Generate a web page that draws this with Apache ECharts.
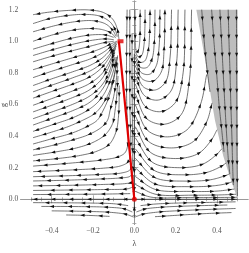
<!DOCTYPE html>
<html><head><meta charset="utf-8">
<script src="https://cdn.jsdelivr.net/npm/echarts@6/dist/echarts.min.js"></script>
<style>html,body{margin:0;padding:0;background:#fff}#c{width:249px;height:253px}</style>
</head><body><div id="c"></div>
<script>
// ---- tick values ----
const xMajorTicks = [-0.4, -0.2, 0, 0.2, 0.4];
const xMinorTicks = [-0.5,-0.45,-0.4,-0.35,-0.3,-0.25,-0.2,-0.15,-0.1,-0.05,0,0.05,0.1,0.15,0.2,0.25,0.3,0.35,0.4,0.45,0.5];
const yMajorTicks = [0, 0.2, 0.4, 0.6, 0.8, 1.0, 1.2];
const yMinorTicks = [-0.15,-0.1,-0.05,0,0.05,0.1,0.15,0.2,0.25,0.3,0.35,0.4,0.45,0.5,0.55,0.6,0.65,0.7,0.75,0.8,0.85,0.9,0.95,1.0,1.05,1.1,1.15,1.2,1.25];

// ---- streamlines, each ordered along the flow: [lambda, g] ----
const leftLines = [
 [[-0.074,1.01],[-0.083,1.08],[-0.105,1.14],[-0.15,1.182],[-0.22,1.198],[-0.32,1.195],[-0.42,1.183],[-0.49,1.168]],
 [[-0.082,1.03],[-0.095,1.08],[-0.12,1.125],[-0.17,1.16],[-0.25,1.17],[-0.35,1.158],[-0.42,1.14],[-0.49,1.112]],
 [[-0.088,1.03],[-0.105,1.07],[-0.14,1.11],[-0.2,1.13],[-0.28,1.125],[-0.38,1.1],[-0.49,1.06]],
 [[-0.09,1.02],[-0.11,1.05],[-0.16,1.075],[-0.23,1.08],[-0.32,1.065],[-0.41,1.035],[-0.49,1.0]],
 [[-0.1,1.025],[-0.14,1.04],[-0.21,1.04],[-0.3,1.02],[-0.4,0.985],[-0.49,0.95]],
 [[-0.1,1.01],[-0.14,1.015],[-0.21,1.005],[-0.3,0.98],[-0.4,0.945],[-0.49,0.91]],
 [[-0.1,1.0],[-0.15,0.99],[-0.21,0.97],[-0.3,0.94],[-0.4,0.905],[-0.49,0.87]],
 [[-0.085,1.0],[-0.11,0.985],[-0.15,0.96],[-0.21,0.93],[-0.3,0.895],[-0.4,0.856],[-0.49,0.82]],
 [[-0.086,0.995],[-0.11,0.97],[-0.15,0.93],[-0.21,0.89],[-0.3,0.852],[-0.4,0.81],[-0.49,0.77]],
 [[-0.087,0.99],[-0.11,0.955],[-0.15,0.9],[-0.21,0.85],[-0.3,0.806],[-0.4,0.762],[-0.49,0.72]],
 [[-0.088,0.98],[-0.11,0.935],[-0.15,0.87],[-0.21,0.815],[-0.3,0.768],[-0.4,0.722],[-0.49,0.68]],
 [[-0.085,0.985],[-0.095,0.96],[-0.12,0.9],[-0.16,0.83],[-0.22,0.772],[-0.3,0.728],[-0.4,0.682],[-0.49,0.64]],
 [[-0.088,0.97],[-0.1,0.93],[-0.125,0.86],[-0.16,0.79],[-0.22,0.73],[-0.3,0.685],[-0.4,0.637],[-0.49,0.595]],
 [[-0.092,0.955],[-0.105,0.9],[-0.13,0.82],[-0.165,0.75],[-0.22,0.69],[-0.3,0.643],[-0.4,0.595],[-0.49,0.553]],
 [[-0.095,0.93],[-0.108,0.86],[-0.13,0.78],[-0.165,0.71],[-0.22,0.65],[-0.3,0.6],[-0.4,0.552],[-0.49,0.51]],
 [[-0.094,0.9],[-0.11,0.82],[-0.135,0.74],[-0.17,0.67],[-0.22,0.61],[-0.3,0.56],[-0.4,0.512],[-0.49,0.47]],
 [[-0.088,0.9],[-0.1,0.82],[-0.12,0.74],[-0.145,0.67],[-0.18,0.61],[-0.23,0.56],[-0.3,0.515],[-0.4,0.47],[-0.49,0.43]],
 [[-0.083,0.9],[-0.095,0.8],[-0.115,0.7],[-0.14,0.63],[-0.174,0.565],[-0.2,0.535],[-0.25,0.5],[-0.32,0.46],[-0.4,0.425],[-0.49,0.39]],
 [[-0.081,0.91],[-0.09,0.83],[-0.105,0.73],[-0.125,0.64],[-0.15,0.565],[-0.18,0.5],[-0.23,0.46],[-0.3,0.42],[-0.4,0.383],[-0.49,0.35]],
 [[-0.08,0.86],[-0.088,0.75],[-0.1,0.65],[-0.117,0.565],[-0.13,0.5],[-0.16,0.455],[-0.22,0.41],[-0.3,0.375],[-0.4,0.34],[-0.49,0.313]],
 [[-0.079,0.78],[-0.085,0.66],[-0.093,0.565],[-0.105,0.48],[-0.14,0.41],[-0.2,0.36],[-0.28,0.325],[-0.38,0.3],[-0.49,0.278]],
 [[-0.073,0.72],[-0.074,0.6],[-0.077,0.52],[-0.088,0.43],[-0.12,0.35],[-0.18,0.305],[-0.26,0.278],[-0.37,0.258],[-0.49,0.243]],
 [[-0.035,1.2],[-0.037,1.0],[-0.038,0.75],[-0.036,0.565],[-0.03,0.42],[-0.031,0.35],[-0.045,0.295],[-0.08,0.268],[-0.15,0.25],[-0.3,0.23],[-0.49,0.21]],
 [[-0.022,1.2],[-0.022,0.9],[-0.021,0.565],[-0.017,0.36],[-0.019,0.28],[-0.032,0.235],[-0.07,0.21],[-0.15,0.197],[-0.3,0.186],[-0.49,0.175]],
 [[-0.011,1.05],[-0.011,0.8],[-0.01,0.565],[-0.008,0.3],[-0.011,0.22],[-0.022,0.185],[-0.06,0.167],[-0.15,0.158],[-0.3,0.15],[-0.49,0.143]],
 [[-0.005,0.25],[-0.008,0.17],[-0.022,0.145],[-0.07,0.135],[-0.2,0.127],[-0.35,0.12],[-0.49,0.116]],
 [[-0.004,0.15],[-0.01,0.11],[-0.04,0.1],[-0.15,0.094],[-0.3,0.089],[-0.49,0.085]],
 [[-0.006,0.08],[-0.03,0.067],[-0.15,0.062],[-0.3,0.059],[-0.49,0.056]],
 [[-0.02,0.036],[-0.15,0.033],[-0.49,0.03]]
];
const rightLines = [
 [[0.003,1.2],[0.004,1.05],[0.006,0.96],[0.012,0.93],[0.02,0.945],[0.026,1.0],[0.028,1.1],[0.028,1.2]],
 [[0.004,0.935],[0.02,0.9],[0.037,0.915],[0.047,0.98],[0.051,1.08],[0.052,1.2]],
 [[0.004,0.915],[0.025,0.868],[0.05,0.875],[0.067,0.94],[0.074,1.05],[0.076,1.2]],
 [[0.004,0.895],[0.03,0.835],[0.062,0.835],[0.086,0.89],[0.097,1.0],[0.1,1.2]],
 [[0.004,0.87],[0.035,0.8],[0.075,0.792],[0.106,0.845],[0.12,0.97],[0.124,1.2]],
 [[0.004,0.845],[0.04,0.76],[0.09,0.748],[0.13,0.805],[0.144,0.95],[0.148,1.2]],
 [[0.004,0.815],[0.045,0.71],[0.102,0.692],[0.152,0.745],[0.173,0.9],[0.18,1.2]],
 [[0.004,0.78],[0.05,0.655],[0.116,0.628],[0.177,0.685],[0.204,0.86],[0.212,1.2]],
 [[0.004,0.73],[0.055,0.585],[0.13,0.555],[0.2,0.615],[0.236,0.8],[0.245,1.2]],
 [[0.004,0.67],[0.06,0.51],[0.145,0.475],[0.226,0.535],[0.266,0.75],[0.277,1.2]],
 [[0.004,0.6],[0.065,0.435],[0.16,0.395],[0.255,0.44],[0.32,0.6],[0.35,0.79]],
 [[0.004,0.53],[0.07,0.365],[0.18,0.325],[0.285,0.365],[0.35,0.49],[0.376,0.61]],
 [[0.004,0.46],[0.08,0.295],[0.2,0.258],[0.31,0.29],[0.375,0.38],[0.4,0.44]],
 [[0.004,0.39],[0.09,0.232],[0.22,0.2],[0.33,0.222],[0.395,0.28],[0.424,0.32]],
 [[0.004,0.32],[0.1,0.18],[0.24,0.155],[0.35,0.17],[0.415,0.205],[0.445,0.23]],
 [[0.004,0.26],[0.1,0.137],[0.25,0.115],[0.37,0.124],[0.43,0.145],[0.46,0.16]],
 [[0.004,0.2],[0.1,0.097],[0.26,0.08],[0.38,0.085],[0.44,0.097],[0.472,0.11]],
 [[0.004,0.145],[0.1,0.063],[0.27,0.05],[0.4,0.052],[0.484,0.065]],
 [[0.004,0.095],[0.1,0.033],[0.28,0.026],[0.42,0.028],[0.492,0.032]],
 [[0.005,0.05],[0.08,0.014],[0.25,0.011],[0.45,0.012],[0.497,0.013]]
];
const shadedLines = [
 [[0.326,1.2],[0.338,1.0],[0.352,0.82],[0.366,0.68]],
 [[0.374,1.2],[0.385,1.0],[0.398,0.8],[0.41,0.6],[0.422,0.45],[0.434,0.3]],
 [[0.414,1.2],[0.422,1.0],[0.43,0.8],[0.438,0.6],[0.447,0.4],[0.455,0.25],[0.462,0.16]],
 [[0.454,1.2],[0.458,1.0],[0.463,0.8],[0.467,0.6],[0.472,0.4],[0.476,0.2],[0.479,0.09]],
 [[0.494,1.2],[0.495,0.9],[0.496,0.6],[0.497,0.3],[0.499,0.02]]
];
const lowerLines = [
 [[-0.03,-0.04],[-0.1,-0.028],[-0.2,-0.024],[-0.35,-0.022],[-0.49,-0.021]],
 [[-0.01,-0.08],[-0.05,-0.06],[-0.13,-0.05],[-0.27,-0.046],[-0.45,-0.045]],
 [[-0.004,-0.112],[-0.04,-0.095],[-0.12,-0.082],[-0.25,-0.076],[-0.4,-0.073]],
 [[-0.12,-0.108],[-0.22,-0.102],[-0.33,-0.099]],
 [[0.03,-0.04],[0.1,-0.03],[0.2,-0.024],[0.35,-0.02],[0.49,-0.016]],
 [[0.01,-0.08],[0.05,-0.062],[0.13,-0.05],[0.27,-0.042],[0.45,-0.036]],
 [[0.004,-0.112],[0.04,-0.095],[0.12,-0.08],[0.25,-0.07],[0.4,-0.062],[0.49,-0.058]],
 [[0.1,-0.11],[0.22,-0.1],[0.35,-0.09],[0.47,-0.084]]
];
const axisLines = [
 [[0,0.92],[0,0.003]],
 [[0,-0.115],[0,-0.005]],
 [[0,0],[-0.5,0]],
 [[0,0],[0.5,0]]
];
// shaded (excluded) region outline
const shadedLam = [0.30, 0.50, 0.50, 0.46, 0.43, 0.39, 0.372, 0.34];
const shadedG   = [1.20, 1.20, 0.00, 0.15, 0.275, 0.50, 0.64, 0.90];
// red path
const redLam = [-0.075, 0.0];
const redG   = [1.0, 0.0];
const redEnd = [-0.067, 1.0];

// ---- helpers (rendering only) ----
function smoothPath(p){
  if (p.length < 3) return p.slice();
  const n = p.length;
  const ext = [[2*p[0][0]-p[1][0], 2*p[0][1]-p[1][1]]].concat(p, [[2*p[n-1][0]-p[n-2][0], 2*p[n-1][1]-p[n-2][1]]]);
  const out = [p[0]];
  const d = (a,b)=>Math.max(1e-4, Math.pow(Math.hypot(a[0]-b[0],a[1]-b[1]),0.5));
  for (let i=1;i<ext.length-2;i++){
    const P0=ext[i-1],P1=ext[i],P2=ext[i+1],P3=ext[i+2];
    const t0=0,t1=t0+d(P0,P1),t2=t1+d(P1,P2),t3=t2+d(P2,P3);
    for (let k=1;k<=10;k++){
      const t=t1+(t2-t1)*k/10;
      const L=(A,B,ta,tb)=>[(tb-t)/(tb-ta)*A[0]+(t-ta)/(tb-ta)*B[0],(tb-t)/(tb-ta)*A[1]+(t-ta)/(tb-ta)*B[1]];
      const A1=L(P0,P1,t0,t1),A2=L(P1,P2,t1,t2),A3=L(P2,P3,t2,t3);
      const B1=L(A1,A2,t0,t2),B2=L(A2,A3,t1,t3);
      out.push(L(B1,B2,t1,t2));
    }
  }
  return out;
}
function arrows(pts, start, gap){
  const res=[]; let acc=0, next=start;
  let total=0; for(let i=1;i<pts.length;i++) total+=Math.hypot(pts[i][0]-pts[i-1][0],pts[i][1]-pts[i-1][1]);
  for (let i=1;i<pts.length;i++){
    const a=pts[i-1],b=pts[i]; const L=Math.hypot(b[0]-a[0],b[1]-a[1]); if(L<1e-6) continue;
    while (next<=acc+L && next<total-2.5){
      const f=(next-acc)/L; const x=a[0]+(b[0]-a[0])*f, y=a[1]+(b[1]-a[1])*f;
      const ux=(b[0]-a[0])/L, uy=(b[1]-a[1])/L;
      res.push([[x+ux*2.2,y+uy*2.2],[x-ux*2.0-uy*1.5,y-uy*2.0+ux*1.5],[x-ux*2.0+uy*1.5,y-uy*2.0-ux*1.5]]);
      next+=gap;
    }
    acc+=L;
  }
  return res;
}
function streamSeries(lines, color, width){
  return {
    type:'custom', coordinateSystem:'cartesian2d', xAxisIndex:0, yAxisIndex:0,
    silent:true, animation:false, clip:true, z:3,
    data: lines.map((l,i)=>[l[0][0], l[0][1], i]),
    encode:{x:0,y:1},
    renderItem:(params, api)=>{
      const line = lines[api.value(2)];
      const px = line.map(p=>api.coord(p));
      const sm = smoothPath(px);
      const ch = [{type:'polyline', shape:{points:sm}, style:{stroke:color, lineWidth:width, fill:null}}];
      arrows(sm, 9, 18).forEach(tri=>ch.push({type:'polygon', shape:{points:tri}, style:{fill:'#111', stroke:null}}));
      return {type:'group', children:ch};
    }
  };
}

const chart = echarts.init(document.getElementById('c'), null, {renderer:'canvas'});
const fam = 'Liberation Serif';
const grid = {left:20.7, top:1, width:227.3, height:227.7};
const XR = {min:-0.55, max:0.55}, YR = {min:-0.16, max:1.2547};
const frame = '#9a9a9a';
function fmt(v){ return (v<0?'\u2212':'')+Math.abs(v).toFixed(1); }
function xAx(pos, ticks, len, labels, line){
  return {type:'value', position:pos, gridIndex:0, ...XR,
    splitLine:{show:false},
    axisLine:{show:line, lineStyle:{color:frame, width:1}},
    axisTick:{show:true, inside:true, length:len, customValues:ticks, lineStyle:{color:frame, width:0.8}},
    axisLabel: labels ? {show:true, customValues:ticks, margin:2.5, color:'#555', fontFamily:fam, fontSize:7.5, formatter:fmt} : {show:false}
  };
}
function yAx(pos, ticks, len, labels, line){
  return {type:'value', position:pos, gridIndex:0, ...YR,
    splitLine:{show:false},
    axisLine:{show:line, lineStyle:{color:frame, width:1}},
    axisTick:{show:true, inside:true, length:len, customValues:ticks, lineStyle:{color:frame, width:0.8}},
    axisLabel: labels ? {show:true, customValues:ticks, margin:2.5, color:'#555', fontFamily:fam, fontSize:7.5, formatter:fmt} : {show:false}
  };
}
const xAxes = [xAx('bottom', xMajorTicks, 4, true, true), xAx('bottom', xMinorTicks, 2, false, false),
               xAx('top', xMajorTicks, 4, false, true), xAx('top', xMinorTicks, 2, false, false)];
xAxes[0].name='\u03bb'; xAxes[0].nameLocation='middle'; xAxes[0].nameGap=14;
xAxes[0].nameTextStyle={fontFamily:fam, fontSize:8, color:'#444'};
const yAxes = [yAx('left', yMajorTicks, 4, true, true), yAx('left', yMinorTicks, 2, false, false),
               yAx('right', yMajorTicks, 4, false, true), yAx('right', yMinorTicks, 2, false, false)];

const shadedPoly = shadedLam.map((l,i)=>[l, shadedG[i]]);

chart.setOption({
  animation:false,
  grid:grid,
  xAxis:xAxes, yAxis:yAxes,
  graphic:[{type:'text', left:0, top:103, rotation:Math.PI/2, style:{text:'g', font:'8px "Liberation Serif"', fill:'#444'}}],
  series:[
    {type:'custom', coordinateSystem:'cartesian2d', silent:true, animation:false, z:1,
     data:[[shadedLam[0], shadedG[0]]], encode:{x:0,y:1},
     renderItem:(p, api)=>({type:'polygon', shape:{points:shadedPoly.map(q=>api.coord(q))}, style:{fill:'#bebebe', stroke:null}})},
    streamSeries(leftLines, '#3a3a3a', 0.7),
    streamSeries(rightLines, '#3a3a3a', 0.7),
    streamSeries(shadedLines, '#3a3a3a', 0.7),
    streamSeries(lowerLines, '#3a3a3a', 0.7),
    streamSeries(axisLines, '#444', 0.9),
    {type:'line', data:redLam.map((l,i)=>[l, redG[i]]), showSymbol:false, silent:true, z:5,
     lineStyle:{color:'#e00000', width:2.2}},
    {type:'scatter', data:[[redLam[1], redG[1]]], symbol:'circle', symbolSize:5, z:6, silent:true,
     itemStyle:{color:'#e00000'}},
    {type:'scatter', data:[redEnd], symbol:'rect', symbolSize:[6,4], z:6, silent:true,
     itemStyle:{color:'#e00000'}}
  ]
});
</script></body></html>
